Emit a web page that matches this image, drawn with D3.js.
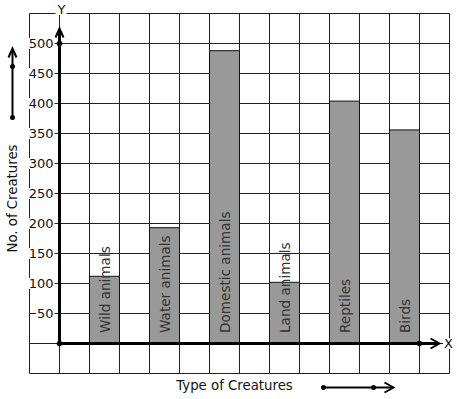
<!DOCTYPE html>
<html lang="en">
  <head>
    <meta charset="UTF-8" />
    <title>Type of Creatures</title>
    <script src="https://d3js.org/d3.v7.min.js"></script>
    <style>
      body {
        margin: 0;
        background: #fff;
        font-family: 'DejaVu Sans', sans-serif;
      }
    </style>
  </head>
  <body>
    <div id="chartContainer"></div>

    <script>
      const categories = ['Wild animals', 'Water animals', 'Domestic animals', 'Land animals', 'Reptiles', 'Birds'];
      const counts = [112, 193, 488, 102, 404, 356];
      const yTicks = [50, 100, 150, 200, 250, 300, 350, 400, 450, 500];

      const width = 457;
      const height = 399;

      const svg = d3
        .select('#chartContainer')
        .append('svg')
        .attr('width', width)
        .attr('height', height)
        .append('g')
        .attr('transform', 'translate(0.5,0.5)');

      // grid columns are 30px, x axis sits one column in from the left edge
      const xGrid = d3.scaleLinear().domain([-1, 13]).range([29, 449]);
      const y = d3.scaleLinear().domain([-50, 550]).range([373, 13]);
      const x = d3
        .scaleBand()
        .domain(categories)
        .range([59, 449])
        .paddingInner(0.5)
        .paddingOuter(0.5);

      // Grid
      const grid = svg.append('g').attr('stroke', '#222').attr('stroke-width', 1);
      grid
        .selectAll('line.v')
        .data(d3.range(-1, 14))
        .enter()
        .append('line')
        .attr('x1', d => xGrid(d))
        .attr('x2', d => xGrid(d))
        .attr('y1', y(550))
        .attr('y2', y(-50));
      grid
        .selectAll('line.h')
        .data(d3.range(-50, 551, 50))
        .enter()
        .append('line')
        .attr('y1', d => y(d))
        .attr('y2', d => y(d))
        .attr('x1', xGrid(-1))
        .attr('x2', xGrid(13));

      // Bars
      svg
        .selectAll('rect.bar')
        .data(categories)
        .enter()
        .append('rect')
        .attr('class', 'bar')
        .attr('x', d => x(d))
        .attr('y', (d, i) => y(counts[i]))
        .attr('width', x.bandwidth())
        .attr('height', (d, i) => y(0) - y(counts[i]))
        .attr('fill', '#999')
        .attr('stroke', '#111');

      // Bar labels, written upward from just above the x axis
      svg
        .selectAll('text.bar-label')
        .data(categories)
        .enter()
        .append('text')
        .attr('transform', d => `translate(${x(d) + x.bandwidth() / 2 + 5},${y(0) - 10.5}) rotate(-90)`)
        .style('font-size', '13.6px')
        .attr('fill', '#333')
        .text(d => d);

      // text with a white box behind it (cuts the grid lines)
      function boxedText(tx, ty, str, anchor) {
        const t = svg
          .append('text')
          .attr('x', tx)
          .attr('y', ty)
          .attr('text-anchor', anchor)
          .attr('dominant-baseline', 'central')
          .style('font-size', '13px')
          .attr('fill', '#111')
          .text(str);
        const b = t.node().getBBox();
        svg
          .insert('rect', () => t.node())
          .attr('x', b.x - 1)
          .attr('y', b.y + 2)
          .attr('width', b.width + 2)
          .attr('height', b.height - 4)
          .attr('fill', '#fff');
      }

      yTicks.forEach(v => boxedText(53, y(v), v, 'end'));
      boxedText(61, 9, 'Y', 'middle');
      boxedText(448, y(0), 'X', 'middle');

      // Axes
      const axes = svg
        .append('g')
        .attr('stroke', '#000')
        .attr('stroke-width', 3)
        .attr('fill', 'none');
      axes
        .append('line')
        .attr('x1', x.range()[0])
        .attr('x2', x.range()[0])
        .attr('y1', y(0))
        .attr('y2', y(525) + 2);
      axes
        .append('path')
        .attr('stroke-width', 2)
        .attr('d', `M${x.range()[0] - 4},${y(525) + 9}L${x.range()[0]},${y(525)}L${x.range()[0] + 4},${y(525) + 9}`);
      axes
        .append('line')
        .attr('x1', x.range()[0])
        .attr('x2', 437)
        .attr('y1', y(0))
        .attr('y2', y(0));
      axes
        .append('path')
        .attr('stroke-width', 2)
        .attr('d', `M430,${y(0) - 5}L439,${y(0)}L430,${y(0) + 5}`);

      const dots = [
        [x.range()[0], y(0)],
        [x.range()[0], y(500)],
        [xGrid(12), y(0)],
      ];
      svg
        .selectAll('circle.dot')
        .data(dots)
        .enter()
        .append('circle')
        .attr('cx', d => d[0])
        .attr('cy', d => d[1])
        .attr('r', 2.8)
        .attr('fill', '#000');

      // Axis titles with their arrows
      svg
        .append('text')
        .attr('transform', 'translate(16,198) rotate(-90)')
        .attr('text-anchor', 'middle')
        .style('font-size', '13.3px')
        .attr('fill', '#111')
        .text('No. of Creatures');

      svg
        .append('text')
        .attr('x', 234)
        .attr('y', 389)
        .attr('text-anchor', 'middle')
        .style('font-size', '13.3px')
        .attr('fill', '#111')
        .text('Type of Creatures');

      const arrows = svg.append('g').attr('stroke', '#000').attr('stroke-width', 2).attr('fill', 'none');
      arrows.append('line').attr('x1', 12).attr('x2', 12).attr('y1', 117).attr('y2', 49);
      arrows.append('path').attr('d', 'M8,57L12,48L16,57');
      arrows.append('line').attr('x1', 323).attr('x2', 392).attr('y1', 387).attr('y2', 387);
      arrows.append('path').attr('d', 'M384,382L393,387L384,392');

      svg
        .selectAll('circle.arrow-dot')
        .data([
          [12, 66],
          [12, 117],
          [323, 387],
          [373, 387],
        ])
        .enter()
        .append('circle')
        .attr('cx', d => d[0])
        .attr('cy', d => d[1])
        .attr('r', 2.5)
        .attr('fill', '#000');
    </script>
  </body>
</html>
